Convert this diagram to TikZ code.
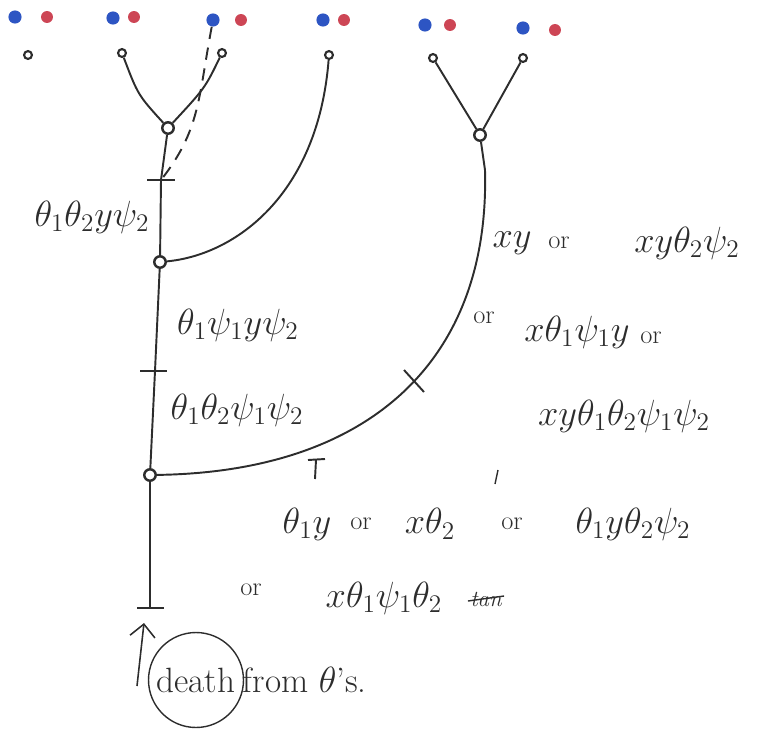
\documentclass[tikz,border=0pt]{standalone}
\usepackage{amsmath}
\usepackage{tikz}
\usetikzlibrary{positioning,arrows.meta,calc}
\definecolor{dotblue}{RGB}{45,85,195}
\definecolor{dotred}{RGB}{205,70,85}
\definecolor{ink}{RGB}{45,45,45}

\begin{document}
\begin{tikzpicture}[
    x=0.02cm, y=-0.02cm,
    every node/.style={font=\fontsize{20}{24}\selectfont, text=ink},
    orw/.style={font=\fontsize{15}{18}\selectfont},
    bdot/.style={circle, fill=dotblue, inner sep=0pt, minimum size=7.5pt},
    rdot/.style={circle, fill=dotred, inner sep=0pt, minimum size=6.8pt},
    leaf/.style={circle, draw=ink, line width=1.2pt, inner sep=0pt, minimum size=4.5pt},
    knot/.style={circle, draw=ink, line width=1.4pt, inner sep=0pt, minimum size=6.5pt},
    branch/.style={draw=ink, line width=1.1pt},
    dashbranch/.style={draw=ink, line width=1.1pt, dash pattern=on 7pt off 5pt},
    arr/.style={-{Straight Barb[length=2.5mm]}, draw=ink, line width=0.9pt}
]
\useasboundingbox (0,0) rectangle (765,728);

% parent pairs
\node[bdot] (b1) at (15,17) {};   \node[rdot] (r1) at (47,17) {};
\node[bdot] (b2) at (113,18) {};  \node[rdot] (r2) at (134,17) {};
\node[bdot] (b3) at (213,20) {};  \node[rdot] (r3) at (241,20) {};
\node[bdot] (b4) at (323,20) {};  \node[rdot] (r4) at (344,20) {};
\node[bdot] (b5) at (425,25) {};  \node[rdot] (r5) at (450,25) {};
\node[bdot] (b6) at (523,28) {};  \node[rdot] (r6) at (555,30) {};

% lineages
\node[leaf] (l1) at (28,55) {};
\node[leaf] (l2) at (122,53) {};
\node[leaf] (l3) at (222,53) {};
\node[leaf] (l4) at (329,55) {};
\node[leaf] (l5) at (433,58) {};
\node[leaf] (l6) at (523,58) {};

\node[knot] (ka) at (168,128) {};
\node[knot] (kb) at (160,262) {};
\node[knot] (kc) at (150,475) {};
\node[knot] (kr) at (480,135) {};

\coordinate (t1) at (161,180);
\coordinate (t2) at (155,371);
\coordinate (t3) at (150,608);
\coordinate (bend) at (485,170);
\coordinate (cross) at (413,381);

\draw[branch] (l2) .. controls (138,95) .. (ka);
\draw[branch] (l3) .. controls (205,88) .. (ka);
\draw[branch] (ka) -- (t1) -- (kb) -- (t2) -- (kc) -- (t3);
\draw[branch] (kb) .. controls (235,255) and (318,195) .. (l4);
\draw[branch] (l5) -- (kr);
\draw[branch] (l6) -- (kr);
\draw[branch] (kc) .. controls (370,472) and (490,360) .. (bend) -- (kr);
\draw[dashbranch] (b3) .. controls (198,100) and (200,130) .. (t1);

% ticks
\draw[branch] ($(t1)+(-14,0)$) -- ($(t1)+(14,0)$);
\draw[branch] ($(t2)+(-15,0)$) -- ($(t2)+(12,0)$);
\draw[branch] ($(t3)+(-13,0)$) -- ($(t3)+(14,0)$);
\draw[branch] ($(cross)+(-9,-11)$) -- ($(cross)+(11,11)$);
\draw[branch] (308,460) -- (325,459);
\draw[branch] (316,460) -- (315,479);
\draw[draw=ink, line width=0.8pt] (498,470) -- (495,484);

% genotypes
\node (g1) at (92,217) {$\theta_1\theta_2 y\psi_2$};
\node (g2) at (238,325) {$\theta_1\psi_1 y\psi_2$};
\node (g3) at (237,410) {$\theta_1\theta_2\psi_1\psi_2$};

\node (g4) at (512,243) {$xy$};
\node[orw] (o4) at (559,243) {or};
\node (g4b) at (687,243) {$xy\theta_2\psi_2$};
\node[orw] (o5) at (484,318) {or};
\node (g5) at (577,332) {$x\theta_1\psi_1 y$};
\node[orw] (o5b) at (651,338) {or};
\node (g6) at (624,416) {$xy\theta_1\theta_2\psi_1\psi_2$};

\node (g7) at (307,524) {$\theta_1 y$};
\node[orw] (o7) at (361,524) {or};
\node (g7b) at (430,524) {$x\theta_2$};
\node[orw] (o7b) at (512,524) {or};
\node (g7c) at (633,524) {$\theta_1 y\theta_2\psi_2$};
\node[orw] (o8) at (251,590) {or};
\node (g8) at (384,598) {$x\theta_1\psi_1\theta_2$};
\node[font=\fontsize{13}{15}\selectfont\itshape, inner sep=0pt] (scrib) at (486,599) {tan};
\draw[draw=ink, line width=0.8pt] ($(scrib.west)+(-2,2)$) -- ($(scrib.east)+(2,-3)$);

\node[draw=ink, circle, line width=0.8pt, inner sep=0pt, minimum size=1.9cm] (death) at (196,680) {death};
\node[right=-1.5mm of death] (from) {from $\theta$'s.};
\coordinate (foot) at (137,686);
\draw[arr] (foot) -- ($(t3)+(-6,15)$);
\end{tikzpicture}
\end{document}
